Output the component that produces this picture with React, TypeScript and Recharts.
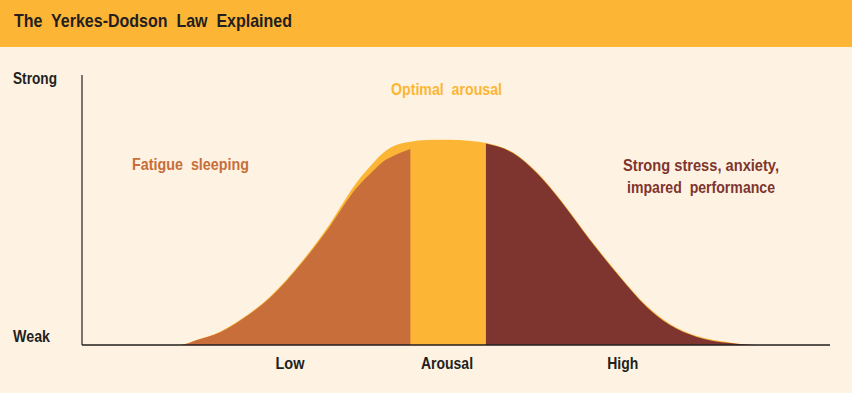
import { ComposedChart, Area, XAxis, YAxis } from "recharts";

// arousal level (0..100 along the x axis) and performance (0..100, weak -> strong)
const arousal = [0, 13.1, 15.5, 18.4, 21.4, 25.1, 29.5, 32.8, 36.8, 38.8, 40.2, 41.4, 43.9, 46, 49, 52, 54, 57.6, 60.8, 63.9, 67.9, 71.9, 75.5, 78.6, 82.2, 86.6, 90.2, 100];
const optimal = [0, 0, 2, 4.8, 9.8, 17.8, 31.3, 43.5, 60.5, 67, 71, 73.3, 75.3, 75.9, 76, 75.6, 74.8, 71.4, 64.1, 54.1, 39.3, 25.6, 14.5, 7.8, 3.3, 0.9, 0, 0];
const fatigue = [0, 0, 1.9, 4.6, 9.5, 17.4, 30.7, 42.6, 58.5, 64.2, 67.8, 69.7, 72.6, null, null, null, null, null, null, null, null, null, null, null, null, null, null, null];
const stress = [null, null, null, null, null, null, null, null, null, null, null, null, null, null, null, null, 74.6, 71.1, 63.7, 53.7, 38.9, 25.2, 14.1, 7.4, 3.0, 0.7, 0, 0];

const xTicks = [27.8, 48.8, 72.3];
const xLabels = ["Low", "Arousal", "High"];
const xLabelWidths = [29, 52, 31];
const yTicks = [0, 100];
const yLabels = ["Weak", "Strong"];
const yLabelWidths = [37, 44];

const data = arousal.map((x, i) => ({
  x,
  optimal: optimal[i],
  fatigue: fatigue[i],
  stress: stress[i],
}));

const FONT = "'Liberation Sans', Arial, sans-serif";
const INK = "#231f20";
const BG = "#fef3e2";
const YELLOW = "#fdb535";
const BROWN = "#c76e3b";
const RED = "#7f352f";

function YTick(props: any) {
  const { y, payload } = props;
  const idx = yTicks.indexOf(payload.value);
  return (
    <text
      x={13}
      y={y + (payload.value === 100 ? 9 : -3)}
      fontFamily={FONT}
      fontWeight="bold"
      fontSize={16.5}
      fill={INK}
      textLength={yLabelWidths[idx]}
      lengthAdjust="spacingAndGlyphs"
    >
      {yLabels[idx]}
    </text>
  );
}

function XTick(props: any) {
  const { x, payload } = props;
  const idx = xTicks.indexOf(payload.value);
  return (
    <text
      x={x}
      y={369}
      textAnchor="middle"
      fontFamily={FONT}
      fontWeight="bold"
      fontSize={16.5}
      fill={INK}
      textLength={xLabelWidths[idx]}
      lengthAdjust="spacingAndGlyphs"
    >
      {xLabels[idx]}
    </text>
  );
}

const pre = { whiteSpace: "pre" as const };

export default function App() {
  return (
    <div
      style={{
        position: "absolute",
        left: 0,
        top: 0,
        width: 852,
        height: 393,
        background: BG,
        overflow: "hidden",
      }}
    >
      <div style={{ position: "absolute", left: 0, top: 0, width: 852, height: 47, background: YELLOW }} />
      <div style={{ position: "absolute", left: 0, top: 0 }}>
        <ComposedChart
          width={852}
          height={393}
          data={data}
          margin={{ top: 75, right: 22, left: 0, bottom: 0 }}
        >
          <XAxis
            dataKey="x"
            type="number"
            domain={[0, 100]}
            ticks={xTicks}
            tick={<XTick />}
            tickLine={false}
            height={48}
            axisLine={{ stroke: INK, strokeWidth: 1.4 }}
          />
          <YAxis
            type="number"
            domain={[0, 100]}
            ticks={yTicks}
            tick={<YTick />}
            tickLine={false}
            width={82}
            axisLine={{ stroke: INK, strokeWidth: 1.2 }}
          />
          <Area
            dataKey="optimal"
            type="monotone"
            stroke="none"
            fill={YELLOW}
            fillOpacity={1}
            isAnimationActive={false}
          />
          <Area
            dataKey="fatigue"
            type="monotone"
            stroke="none"
            fill={BROWN}
            fillOpacity={1}
            isAnimationActive={false}
          />
          <Area
            dataKey="stress"
            type="monotone"
            stroke="none"
            fill={RED}
            fillOpacity={1}
            isAnimationActive={false}
          />
        </ComposedChart>
      </div>
      <svg
        width={852}
        height={393}
        style={{ position: "absolute", left: 0, top: 0, pointerEvents: "none" }}
        fontFamily={FONT}
        fontWeight="bold"
        fontSize={16.5}
      >
        <text x={14} y={27} fontSize={19} fill={INK} style={pre} textLength={278} lengthAdjust="spacingAndGlyphs">
          {"The  Yerkes-Dodson  Law  Explained"}
        </text>
        <text x={391} y={95} fill={YELLOW} style={pre} textLength={111} lengthAdjust="spacingAndGlyphs">
          {"Optimal  arousal"}
        </text>
        <text x={132} y={170} fill={BROWN} style={pre} textLength={117} lengthAdjust="spacingAndGlyphs">
          {"Fatigue  sleeping"}
        </text>
        <text x={623} y={171} fill={RED} style={pre} textLength={156} lengthAdjust="spacingAndGlyphs">
          {"Strong stress, anxiety,"}
        </text>
        <text x={627} y={193} fill={RED} style={pre} textLength={148} lengthAdjust="spacingAndGlyphs">
          {"impared  performance"}
        </text>
      </svg>
    </div>
  );
}
